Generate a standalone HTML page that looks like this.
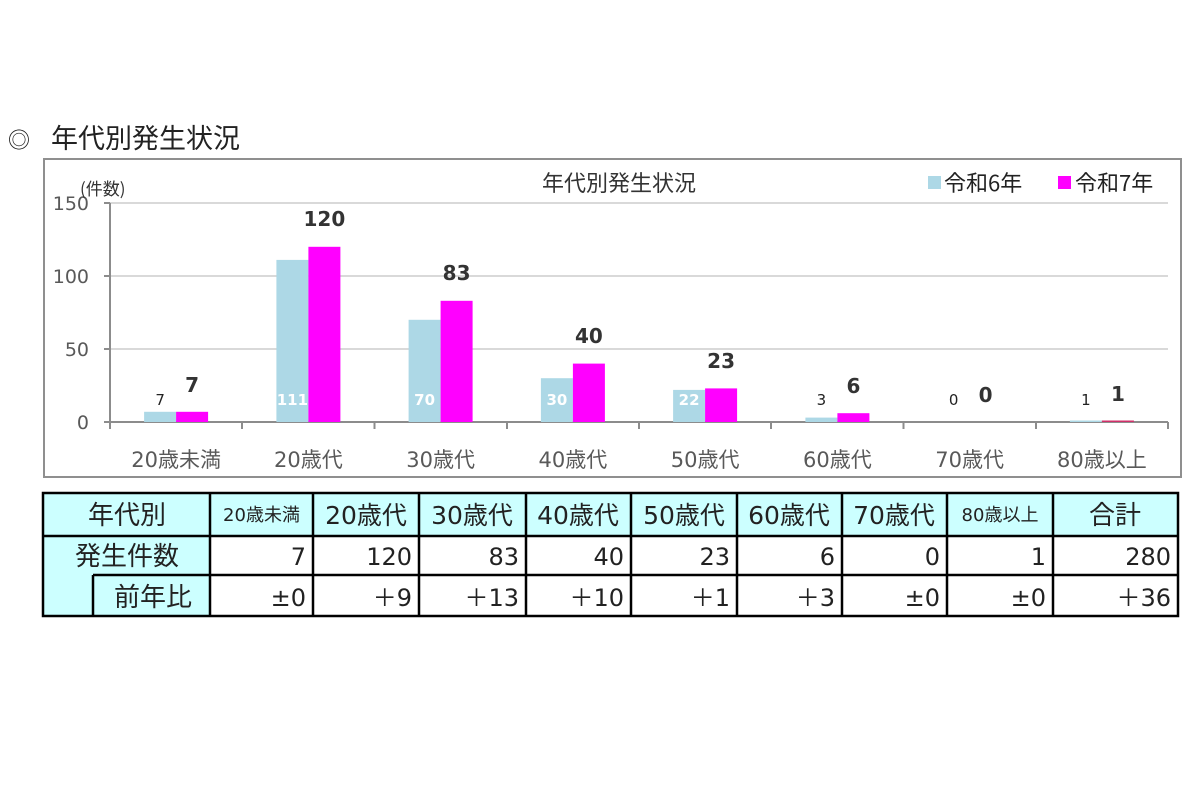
<!DOCTYPE html>
<html>
<head>
<meta charset="utf-8">
<style>
html,body{margin:0;padding:0;background:#fff;}
svg{display:block;}
text{font-family:"DejaVu Sans","Noto Sans CJK JP",sans-serif;}
.cjk{font-family:"Noto Sans CJK JP",sans-serif;}
</style>
</head>
<body>
<svg width="1200" height="799" viewBox="0 0 1200 799" xmlns="http://www.w3.org/2000/svg">
<rect width="1200" height="799" fill="#fff"/>
<!-- heading -->
<text x="8" y="148" font-size="22" fill="#222" class="cjk">◎</text>
<text x="51" y="148" font-size="27" fill="#222" class="cjk">年代別発生状況</text>

<!-- chart frame -->
<rect x="44" y="159" width="1137" height="318" fill="#fff" stroke="#8f8f8f" stroke-width="2"/>

<!-- gridlines -->
<g stroke="#d9d9d9" stroke-width="2">
<line x1="110" y1="203" x2="1168" y2="203"/>
<line x1="110" y1="276" x2="1168" y2="276"/>
<line x1="110" y1="349" x2="1168" y2="349"/>
</g>
<!-- axes -->
<g stroke="#8c8c8c" stroke-width="2">
<line x1="110" y1="203" x2="110" y2="422"/>
<line x1="104" y1="203" x2="110" y2="203"/>
<line x1="104" y1="276" x2="110" y2="276"/>
<line x1="104" y1="349" x2="110" y2="349"/>
<line x1="104" y1="422" x2="1168" y2="422"/>
<line x1="110" y1="422" x2="110" y2="429"/>
<line x1="242" y1="422" x2="242" y2="429"/>
<line x1="374.5" y1="422" x2="374.5" y2="429"/>
<line x1="507" y1="422" x2="507" y2="429"/>
<line x1="639" y1="422" x2="639" y2="429"/>
<line x1="771" y1="422" x2="771" y2="429"/>
<line x1="903.5" y1="422" x2="903.5" y2="429"/>
<line x1="1036" y1="422" x2="1036" y2="429"/>
<line x1="1168" y1="422" x2="1168" y2="429"/>
</g>
<!-- y labels -->
<g font-size="19" fill="#595959" text-anchor="end">
<text x="89" y="210">150</text>
<text x="89" y="283">100</text>
<text x="89" y="356">50</text>
<text x="89" y="429">0</text>
</g>
<text x="80" y="195" font-size="17" fill="#333" class="cjk">(件数)</text>
<!-- title -->
<text x="619" y="191" font-size="22" fill="#333" text-anchor="middle" class="cjk">年代別発生状況</text>
<!-- legend -->
<rect x="928" y="176" width="13" height="13" fill="#add8e6"/>
<text x="944" y="191" font-size="22" fill="#222" class="cjk">令和6年</text>
<rect x="1058" y="176" width="13" height="13" fill="#ff00ff"/>
<text x="1075" y="191" font-size="22" fill="#222" class="cjk">令和7年</text>

<!-- bars -->
<g fill="#add8e6">
<rect x="144.1" y="411.8" width="32" height="10.2"/>
<rect x="276.4" y="259.9" width="32" height="162.1"/>
<rect x="408.6" y="319.8" width="32" height="102.2"/>
<rect x="540.9" y="378.2" width="32" height="43.8"/>
<rect x="673.1" y="389.9" width="32" height="32.1"/>
<rect x="805.4" y="417.6" width="32" height="4.4"/>
<rect x="1069.9" y="420.5" width="32" height="1.5"/>
</g>
<g fill="#ff00ff">
<rect x="176.1" y="411.8" width="32" height="10.2"/>
<rect x="308.4" y="246.8" width="32" height="175.2"/>
<rect x="440.6" y="300.8" width="32" height="121.2"/>
<rect x="572.9" y="363.6" width="32" height="58.4"/>
<rect x="705.1" y="388.4" width="32" height="33.6"/>
<rect x="837.4" y="413.2" width="32" height="8.8"/>
<rect x="1101.9" y="420.5" width="32" height="1.5" fill="#d0306a"/>
</g>
<!-- 7年 labels -->
<g font-size="20" font-weight="bold" fill="#333" text-anchor="middle">
<text x="192.1" y="392">7</text>
<text x="324.4" y="226">120</text>
<text x="456.6" y="280">83</text>
<text x="588.9" y="343">40</text>
<text x="721.1" y="368">23</text>
<text x="853.4" y="393">6</text>
<text x="985.6" y="402">0</text>
<text x="1117.9" y="401">1</text>
</g>
<!-- 6年 labels -->
<g font-size="15" fill="#222" text-anchor="middle">
<text x="160.1" y="405">7</text>
<text x="821.4" y="405">3</text>
<text x="953.6" y="405">0</text>
<text x="1085.9" y="405">1</text>
</g>
<g font-size="15" font-weight="bold" fill="#fff" text-anchor="middle">
<text x="292.4" y="405">111</text>
<text x="424.6" y="405">70</text>
<text x="556.9" y="405">30</text>
<text x="689.1" y="405">22</text>
</g>
<!-- x labels -->
<g font-size="21" fill="#595959" text-anchor="middle">
<text x="176.1" y="467">20歳未満</text>
<text x="308.4" y="467">20歳代</text>
<text x="440.6" y="467">30歳代</text>
<text x="572.9" y="467">40歳代</text>
<text x="705.1" y="467">50歳代</text>
<text x="837.4" y="467">60歳代</text>
<text x="969.6" y="467">70歳代</text>
<text x="1101.9" y="467">80歳以上</text>
</g>

<!-- table -->
<rect x="43" y="493" width="1135" height="43" fill="#ccffff"/>
<rect x="43" y="493" width="167" height="123" fill="#ccffff"/>
<g stroke="#000" stroke-width="2.5" fill="none">
<rect x="43" y="493" width="1135" height="123"/>
<line x1="43" y1="536" x2="1178" y2="536"/>
<line x1="93" y1="575" x2="1178" y2="575"/>
<line x1="93" y1="575" x2="93" y2="616"/>
<line x1="210" y1="493" x2="210" y2="616"/>
<line x1="313" y1="493" x2="313" y2="616"/>
<line x1="419" y1="493" x2="419" y2="616"/>
<line x1="526" y1="493" x2="526" y2="616"/>
<line x1="631" y1="493" x2="631" y2="616"/>
<line x1="737" y1="493" x2="737" y2="616"/>
<line x1="842" y1="493" x2="842" y2="616"/>
<line x1="947" y1="493" x2="947" y2="616"/>
<line x1="1053" y1="493" x2="1053" y2="616"/>
</g>
<g font-size="25" fill="#222" text-anchor="middle">
<text x="127" y="524" class="cjk" font-size="26">年代別</text>
<text x="366" y="524">20歳代</text>
<text x="472" y="524">30歳代</text>
<text x="578" y="524">40歳代</text>
<text x="684" y="524">50歳代</text>
<text x="789" y="524">60歳代</text>
<text x="894" y="524">70歳代</text>
<text x="1115" y="524" class="cjk" font-size="26">合計</text>
<text x="127" y="565" class="cjk" font-size="26">発生件数</text>
<text x="153" y="606" class="cjk" font-size="26">前年比</text>
</g>
<g font-size="18" fill="#222" text-anchor="middle">
<text x="261.5" y="521">20歳未満</text>
<text x="1000" y="521">80歳以上</text>
</g>
<g font-size="24" fill="#222" text-anchor="end">
<text x="306" y="565">7</text>
<text x="412" y="565">120</text>
<text x="519" y="565">83</text>
<text x="624" y="565">40</text>
<text x="730" y="565">23</text>
<text x="835" y="565">6</text>
<text x="940" y="565">0</text>
<text x="1046" y="565">1</text>
<text x="1171" y="565">280</text>
<text x="306" y="606">±0</text>
<text x="412" y="606"><tspan class="cjk">＋</tspan>9</text>
<text x="519" y="606"><tspan class="cjk">＋</tspan>13</text>
<text x="624" y="606"><tspan class="cjk">＋</tspan>10</text>
<text x="730" y="606"><tspan class="cjk">＋</tspan>1</text>
<text x="835" y="606"><tspan class="cjk">＋</tspan>3</text>
<text x="940" y="606">±0</text>
<text x="1046" y="606">±0</text>
<text x="1171" y="606"><tspan class="cjk">＋</tspan>36</text>
</g>
</svg>
</body>
</html>
